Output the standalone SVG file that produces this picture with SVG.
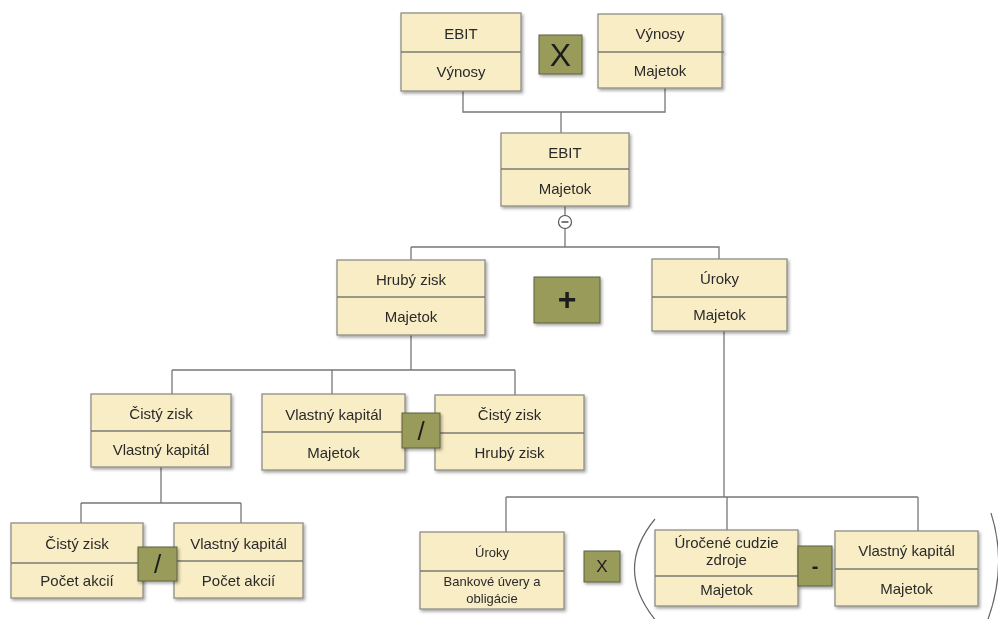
<svg xmlns="http://www.w3.org/2000/svg" width="998" height="619" viewBox="0 0 998 619">
<defs>
<filter id="sh" x="-10%" y="-10%" width="125%" height="130%">
<feDropShadow dx="1.5" dy="2" stdDeviation="1.5" flood-color="#000" flood-opacity="0.35"/>
</filter>
<style>
.box{fill:#f9edc6;stroke:#8e8e86;stroke-width:1.3}
.div{stroke:#7a7a72;stroke-width:1.3}
.op{fill:#989b5a;stroke:#5f6040;stroke-width:1}
.t{font-family:"Liberation Sans",Arial,sans-serif;font-size:15px;fill:#2a2a2a;text-anchor:middle;dominant-baseline:central}
.s{font-size:13px}
.ot{font-family:"Liberation Sans",Arial,sans-serif;fill:#1e1e1e;text-anchor:middle;dominant-baseline:central}
.c{fill:none;stroke:#777;stroke-width:1.3}
.p{fill:none;stroke:#666;stroke-width:1.2}
</style>
</defs>
<rect width="998" height="619" fill="#fff"/>
<g id="connectors">
<path class="c" d="M463,91 V112 H665 V88 M561,112 V133"/>
<path class="c" d="M565,206 V247 M411,247 H719 V259 M411,247 V260"/>
<path class="c" d="M411,335 V370 M172,370 H515 M172,370 V394 M332,370 V394 M515,370 V395"/>
<path class="c" d="M161,467 V503 M81,503 H241 M81,503 V523 M241,503 V523"/>
<path class="c" d="M724,331 V497 M506,497 H918 M506,497 V532 M727,497 V530 M918,497 V531"/>
<g id="minus-circle">
<circle cx="565" cy="222" r="6.5" fill="#fff" stroke="#555" stroke-width="1.2"/>
<line x1="561.5" y1="222" x2="568.5" y2="222" stroke="#333" stroke-width="1.3"/>
</g>
</g>
<g id="n1" filter="url(#sh)">
<rect class="box" x="401" y="13" width="120" height="78"/>
<line class="div" x1="401" y1="52" x2="521" y2="52"/>
<text class="t" x="461" y="33">EBIT</text>
<text class="t" x="461" y="71">Výnosy</text>
</g>
<g id="op1" filter="url(#sh)">
<rect class="op" x="539" y="35" width="43" height="39"/>
<text class="ot" x="560.5" y="55" font-size="32">X</text>
</g>
<g id="n2" filter="url(#sh)">
<rect class="box" x="598" y="14" width="124" height="74"/>
<line class="div" x1="598" y1="52" x2="724" y2="52"/>
<text class="t" x="660" y="33">Výnosy</text>
<text class="t" x="660" y="70">Majetok</text>
</g>
<g id="n3" filter="url(#sh)">
<rect class="box" x="501" y="133" width="128" height="73"/>
<line class="div" x1="501" y1="169" x2="629" y2="169"/>
<text class="t" x="565" y="152">EBIT</text>
<text class="t" x="565" y="188">Majetok</text>
</g>
<g id="n4" filter="url(#sh)">
<rect class="box" x="337" y="260" width="148" height="75"/>
<line class="div" x1="337" y1="297" x2="485" y2="297"/>
<text class="t" x="411" y="279">Hrubý zisk</text>
<text class="t" x="411" y="316">Majetok</text>
</g>
<g id="op2" filter="url(#sh)">
<rect class="op" x="534" y="277" width="66" height="46"/>
<text class="ot" x="567" y="299" font-size="32" font-weight="bold">+</text>
</g>
<g id="n5" filter="url(#sh)">
<rect class="box" x="652" y="259" width="135" height="72"/>
<line class="div" x1="652" y1="297" x2="787" y2="297"/>
<text class="t" x="719.5" y="278">Úroky</text>
<text class="t" x="719.5" y="314">Majetok</text>
</g>
<g id="n6" filter="url(#sh)">
<rect class="box" x="91" y="394" width="140" height="73"/>
<line class="div" x1="91" y1="431" x2="231" y2="431"/>
<text class="t" x="161" y="413">Čistý zisk</text>
<text class="t" x="161" y="449">Vlastný kapitál</text>
</g>
<g id="n7" filter="url(#sh)">
<rect class="box" x="262" y="394" width="143" height="76"/>
<line class="div" x1="262" y1="432" x2="405" y2="432"/>
<text class="t" x="333.5" y="414">Vlastný kapitál</text>
<text class="t" x="333.5" y="452">Majetok</text>
</g>
<g id="n8" filter="url(#sh)">
<rect class="box" x="435" y="395" width="149" height="75"/>
<line class="div" x1="435" y1="433" x2="584" y2="433"/>
<text class="t" x="509.5" y="414">Čistý zisk</text>
<text class="t" x="509.5" y="452">Hrubý zisk</text>
</g>
<g id="op3" filter="url(#sh)">
<rect class="op" x="402" y="413" width="38" height="35"/>
<text class="ot" x="421" y="431" font-size="26">/</text>
</g>
<g id="n9" filter="url(#sh)">
<rect class="box" x="11" y="523" width="132" height="75"/>
<line class="div" x1="11" y1="563" x2="143" y2="563"/>
<text class="t" x="77" y="543">Čistý zisk</text>
<text class="t" x="77" y="580">Počet akcií</text>
</g>
<g id="n10" filter="url(#sh)">
<rect class="box" x="174" y="523" width="129" height="75"/>
<line class="div" x1="174" y1="561" x2="303" y2="561"/>
<text class="t" x="238.5" y="543">Vlastný kapitál</text>
<text class="t" x="238.5" y="580">Počet akcií</text>
</g>
<g id="op4" filter="url(#sh)">
<rect class="op" x="138" y="547" width="39" height="34"/>
<text class="ot" x="157.5" y="564" font-size="26">/</text>
</g>
<g id="n11" filter="url(#sh)">
<rect class="box" x="420" y="532" width="144" height="77"/>
<line class="div" x1="420" y1="571" x2="564" y2="571"/>
<text class="t s" x="492" y="552">Úroky</text>
<text class="t s" x="492" y="581">Bankové úvery a</text>
<text class="t s" x="492" y="598">obligácie</text>
</g>
<g id="op5" filter="url(#sh)">
<rect class="op" x="584" y="551" width="36" height="31"/>
<text class="ot" x="602" y="566.5" font-size="17">X</text>
</g>
<g id="n12" filter="url(#sh)">
<rect class="box" x="655" y="530" width="143" height="76"/>
<line class="div" x1="655" y1="576" x2="798" y2="576"/>
<text class="t" x="726.5" y="542">Úročené cudzie</text>
<text class="t" x="726.5" y="559">zdroje</text>
<text class="t" x="726.5" y="589">Majetok</text>
</g>
<g id="op6" filter="url(#sh)">
<rect class="op" x="798" y="546" width="34" height="40"/>
<text class="ot" x="815" y="566" font-size="20" font-weight="bold">-</text>
</g>
<g id="n13" filter="url(#sh)">
<rect class="box" x="835" y="531" width="143" height="75"/>
<line class="div" x1="835" y1="569" x2="978" y2="569"/>
<text class="t" x="906.5" y="550">Vlastný kapitál</text>
<text class="t" x="906.5" y="588">Majetok</text>
</g>
<g id="parens">
<path class="p" d="M655,519 Q613,570 657,622"/>
<path class="p" d="M991,513 Q1008,566 987,622"/>
</g>
</svg>
